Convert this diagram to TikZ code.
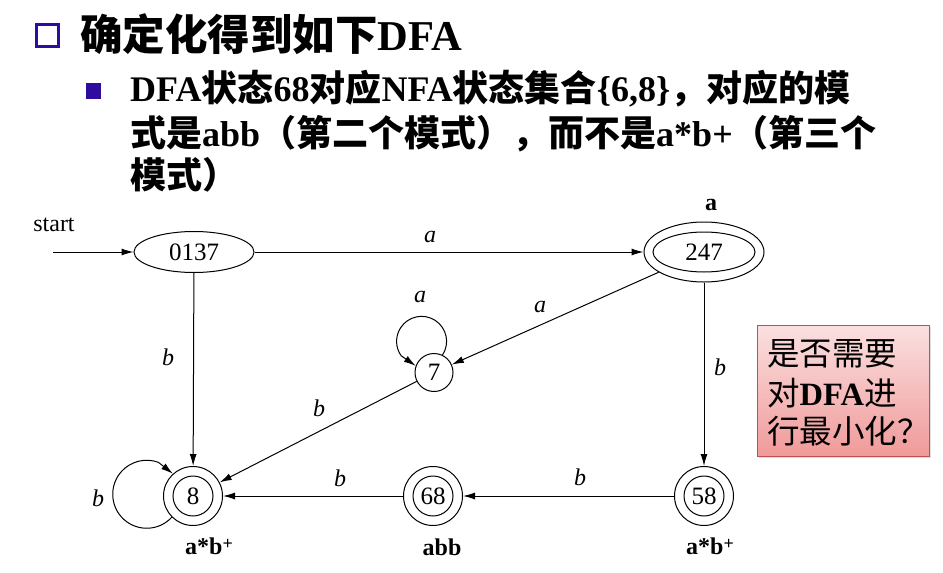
\documentclass[tikz,border=0pt]{standalone}
\usepackage{fontspec}
\setmainfont{Liberation Serif}
\newfontfamily\cjk{Noto Sans CJK SC}
\usetikzlibrary{arrows.meta,shapes.geometric,shadows}
\definecolor{bul}{HTML}{2E0CA0}
\definecolor{boxborder}{HTML}{C0504D}
\definecolor{boxtop}{HTML}{FBE0E0}
\definecolor{boxbot}{HTML}{F09A9A}
\newcommand{\zh}[1]{{\cjk #1}}
\begin{document}
\begin{tikzpicture}[x=1pt,y=-1pt,
  arr/.style={line width=1pt,-{Latex[length=12pt,width=7pt]}},
  st/.style={draw,line width=1pt,circle,inner sep=0pt,font=\fontsize{25}{25}\selectfont},
  el/.style={draw,line width=1pt,ellipse,inner sep=0pt,font=\fontsize{25}{25}\selectfont},
  lab/.style={font=\fontsize{24}{24}\selectfont\itshape,inner sep=0pt},
  blab/.style={font=\fontsize{24}{24}\selectfont\bfseries,inner sep=0pt},
  txt/.style={anchor=base west,inner sep=0pt}]
\useasboundingbox (0,0) rectangle (943,573);
% header
\draw[bul,line width=3pt] (36,24) rectangle (58,46);
\node[txt,font=\fontsize{42.5}{42.5}\selectfont\bfseries] (title) at (80,50) {\zh{确定化得到如下}DFA};
\fill[bul] (86,83) rectangle (101,99);
\node[txt,font=\fontsize{36}{36}\selectfont\bfseries] (l1) at (130,101) {DFA\zh{状态}68\zh{对应}NFA\zh{状态集合}\{6,8\}\zh{，对应的模}};
\node[txt,font=\fontsize{36}{36}\selectfont\bfseries] (l2) at (130,146) {\zh{式是}abb\zh{（第二个模式），而不是}a*b+\zh{（第三个}};
\node[txt,font=\fontsize{36}{36}\selectfont\bfseries] (l3) at (130,188) {\zh{模式）}};
% states
\node[el,minimum width=120pt,minimum height=41pt] (n0137) at (194,252) {0137};
\node[el,minimum width=120pt,minimum height=60pt] (n247) at (704,252) {};
\node[el,minimum width=102pt,minimum height=40pt] (n247i) at (704,252) {247};
\node[st,minimum size=38pt] (n7) at (434,372.5) {7};
\node[st,minimum size=59pt] (n8) at (193,496) {};
\node[st,minimum size=40pt] (n8i) at (193,496) {8};
\node[st,minimum size=59pt] (n68) at (433,496) {};
\node[st,minimum size=40pt] (n68i) at (433,496) {68};
\node[st,minimum size=59pt] (n58) at (704,496) {};
\node[st,minimum size=40pt] (n58i) at (704,496) {58};
% start
\node[font=\fontsize{24}{24}\selectfont,inner sep=0pt] (start) at (54,225) {start};
\coordinate (s0) at (53,252);
\draw[arr] (s0) -- (n0137);
% edges
\draw[arr] (n0137) -- (n247);
\draw[arr] (n0137) -- (n8);
\draw[arr] (n247) -- (n7);
\draw[arr] (n7) -- (n8);
\draw[arr] (n247) -- (n58);
\draw[arr] (n58) -- (n68);
\draw[arr] (n68) -- (n8);
\draw[arr] (n7.64) arc[start angle=-33, end angle=215, radius=25pt] -- (n7.160);
\draw[arr] (n8.225) arc[start angle=-42.5, end angle=-290, radius=34pt] -- (n8.132);
% edge labels
\node[lab] (la1) at (430,237) {a};
\node[lab] (la2) at (540,307) {a};
\node[lab] (la3) at (420,297) {a};
\node[lab] (lb1) at (168,357) {b};
\node[lab] (lb2) at (319,408) {b};
\node[lab] (lb3) at (720,367) {b};
\node[lab] (lb4) at (98,498) {b};
\node[lab] (lb5) at (340,478) {b};
\node[lab] (lb6) at (580,477) {b};
% pattern labels
\node[blab] (p247) at (711,205) {a};
\node[blab] (p8) at (209,546) {a*b\raisebox{5pt}{\fontsize{18}{18}\selectfont +}};
\node[blab] (p68) at (442,547) {abb};
\node[blab] (p58) at (710,546) {a*b\raisebox{5pt}{\fontsize{18}{18}\selectfont +}};
% callout
\node[draw=boxborder,line width=1pt,top color=boxtop,bottom color=boxbot,
  minimum width=172pt,minimum height=131pt,inner sep=0pt,
  drop shadow={opacity=0.25,shadow xshift=2pt,shadow yshift=-2pt}] (box) at (843,390.5) {};
\node[txt,font=\fontsize{32.5}{32.5}\selectfont] (c1) at (767,365) {\zh{是否需要}};
\node[txt,font=\fontsize{32.5}{32.5}\selectfont] (c2) at (767,405) {\zh{对}\textbf{DFA}\zh{进}};
\node[txt,font=\fontsize{32.5}{32.5}\selectfont] (c3) at (767,443) {\zh{行最小化？}};
\end{tikzpicture}
\end{document}
